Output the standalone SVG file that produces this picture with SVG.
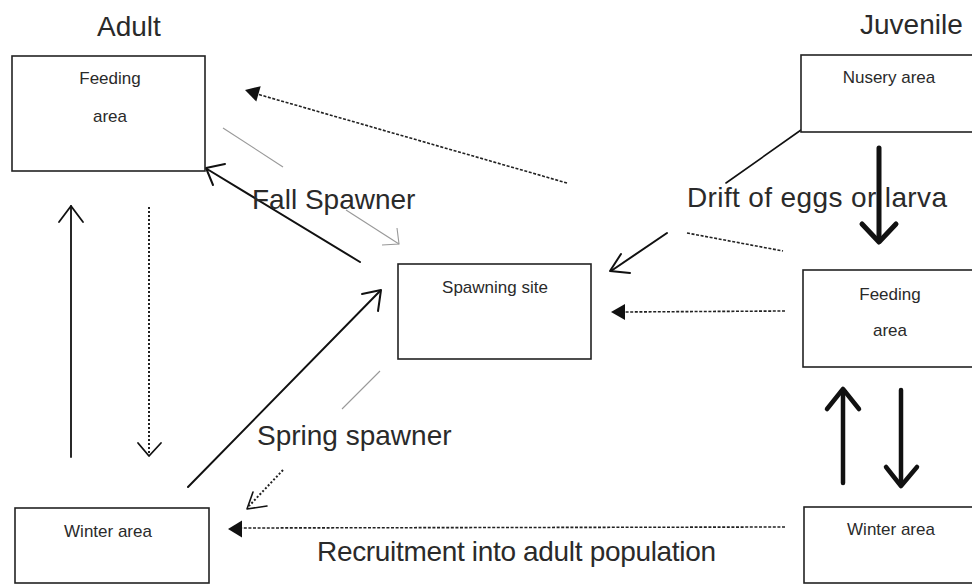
<svg xmlns="http://www.w3.org/2000/svg" width="972" height="585" viewBox="0 0 972 585">
<style>
.box{fill:#fff;stroke:#222;stroke-width:1.6}
.bt{font-family:"Liberation Sans",Arial,sans-serif;font-size:17px;fill:#2a2a2a;text-anchor:middle}
.big{font-family:"Liberation Sans",Arial,sans-serif;font-size:28px;fill:#2a2a2a}
.ln{fill:none;stroke:#111;stroke-width:2;stroke-linecap:round;stroke-linejoin:round}
.thick{fill:none;stroke:#111;stroke-width:4.5;stroke-linecap:round;stroke-linejoin:round}
.dash{fill:none;stroke:#222;stroke-width:1.6;stroke-dasharray:3 1.6}
.dot{fill:none;stroke:#222;stroke-width:2;stroke-dasharray:2 2}
.faint{fill:none;stroke:#999;stroke-width:1.1}
.head{fill:#111;stroke:none}
</style>
<rect width="972" height="585" fill="#fff"/>

<g id="connectors">
  <!-- top-left dashed arrow to adult feeding area -->
  <line class="dash" x1="567" y1="183" x2="257" y2="94"/>
  <polygon class="head" points="245,90 260.7,86.2 256.3,101.6"/>
  <!-- faint gray arrow feeding -> spawning -->
  <line class="faint" x1="223" y1="128" x2="283" y2="167"/>
  <line class="faint" x1="346" y1="210" x2="399" y2="244"/>
  <polyline class="faint" points="382,245 399,244 397,228"/>
  <line class="faint" x1="342" y1="409" x2="380" y2="371"/>
  <!-- Fall spawner arrow -->
  <line class="ln" x1="360" y1="262" x2="207" y2="169"/>
  <polyline class="ln" points="225,164 206,168 213,185"/>
  <!-- Spring spawner arrow -->
  <line class="ln" x1="188" y1="487" x2="380" y2="291"/>
  <polyline class="ln" points="362,294 381,290 378,311"/>
  <!-- small dotted arrow to winter area -->
  <line class="dot" x1="283" y1="470" x2="249" y2="506"/>
  <polyline class="ln" style="stroke-width:1.6" points="267,506 247,509 253,492"/>
  <!-- left verticals -->
  <line class="ln" style="stroke-width:1.8" x1="71" y1="457" x2="71" y2="206"/>
  <polyline class="ln" style="stroke-width:1.8" points="59,222 71,206 83,222"/>
  <line class="dot" x1="149" y1="207" x2="149" y2="455"/>
  <polyline class="ln" style="stroke-width:1.8" points="138,443 149,456 161,443"/>
  <!-- Drift: Nusery -> spawning site -->
  <line class="ln" style="stroke-width:1.6" x1="801" y1="130" x2="726" y2="183"/>
  <line class="ln" x1="667" y1="233" x2="611" y2="271"/>
  <polyline class="ln" points="630,273 610,271 621,254"/>
  <line class="dash" x1="687" y1="233" x2="783" y2="251"/>
  <!-- juvenile feeding -> spawning site -->
  <line class="dash" x1="785" y1="311" x2="622" y2="312"/>
  <polygon class="head" points="611,312 625,304 625,320"/>
  <!-- recruitment -->
  <line class="dash" x1="785" y1="527" x2="238" y2="528"/>
  <polygon class="head" points="228,529 242,520.5 242,537.5"/>
  <!-- juvenile thick arrows -->
  <line class="thick" style="stroke-width:5" x1="879" y1="148" x2="879" y2="240"/>
  <polyline class="thick" style="stroke-width:5" points="862,224 879,242 896,224"/>
  <line class="thick" x1="843" y1="483" x2="843" y2="390"/>
  <polyline class="thick" points="827,409 843,389 859,409"/>
  <line class="thick" x1="901" y1="390" x2="901" y2="485"/>
  <polyline class="thick" points="886,467 901,486 917,467"/>
</g>

<g id="adult-feeding">
  <rect class="box" x="12" y="56" width="193" height="115"/>
  <text class="bt" x="110" y="84">Feeding</text>
  <text class="bt" x="110" y="122">area</text>
</g>
<g id="adult-winter">
  <rect class="box" x="15" y="508" width="194" height="75"/>
  <text class="bt" x="108" y="537">Winter area</text>
</g>
<g id="spawning-site">
  <rect class="box" x="398" y="264" width="193" height="95"/>
  <text class="bt" x="495" y="293">Spawning site</text>
</g>
<g id="nusery-area">
  <rect class="box" x="801" y="55" width="180" height="77"/>
  <text class="bt" x="889" y="83">Nusery area</text>
</g>
<g id="juvenile-feeding">
  <rect class="box" x="803" y="270" width="180" height="97"/>
  <text class="bt" x="890" y="300">Feeding</text>
  <text class="bt" x="890" y="336">area</text>
</g>
<g id="juvenile-winter">
  <rect class="box" x="804" y="507" width="180" height="76"/>
  <text class="bt" x="891" y="535">Winter area</text>
</g>

<g id="labels">
  <text class="big" x="97" y="36">Adult</text>
  <text class="big" x="860" y="34">Juvenile</text>
  <text class="big" x="252" y="209">Fall Spawner</text>
  <text class="big" x="687" y="207" textLength="260" lengthAdjust="spacing">Drift of eggs or larva</text>
  <text class="big" x="257" y="445">Spring spawner</text>
  <text class="big" x="317" y="561" textLength="399" lengthAdjust="spacing">Recruitment into adult population</text>
</g>
</svg>
